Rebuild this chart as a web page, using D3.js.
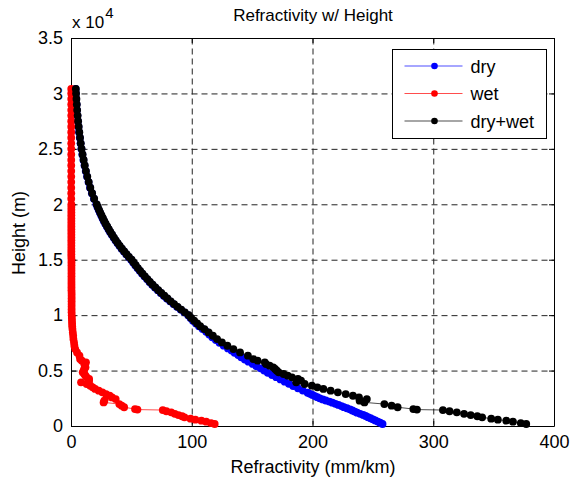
<!DOCTYPE html>
<html lang="en">
<head>
<meta charset="UTF-8">
<title>Refractivity w/ Height</title>
<script src="https://d3js.org/d3.v7.min.js"></script>
<style>
    body { margin: 0; background: #fff; }
    svg text { font-family: "Liberation Sans", Arial, sans-serif; fill: #000; }
</style>
</head>
<body>
<svg width="573" height="481"></svg>
<script>
    // ---- data (height in m, refractivity in mm/km) ----
    const xTicks = [0, 100, 200, 300, 400];
    const yTicks = [0, 5000, 10000, 15000, 20000, 25000, 30000, 35000];
    const yTickLabels = ["0", "0.5", "1", "1.5", "2", "2.5", "3", "3.5"];
    const seriesNames = ["dry", "wet", "dry+wet"];
    const seriesColors = ["#0000ff", "#ff0000", "#000000"];

    // dry: dense levels below 10 km
    const dryLowHeight = [180, 300, 400, 500, 600, 700, 800, 900, 1000, 1100,
        1200, 1300, 1400, 1500, 1600, 1700, 1800, 1900, 2000, 2100,
        2200, 2300, 2400, 2500, 2600, 2700, 2800, 2900, 3000,
        3200, 3400, 3600, 3800, 4000, 4200, 4400, 4600, 4800, 5000,
        5200, 5400, 5600, 5800, 6000, 6200, 6400, 6600, 6800, 7000,
        7250, 7500, 7750, 8000, 8250, 8500, 8750, 9000, 9250, 9500, 9750, 10000];
    const dryLow = [258, 256, 254, 252, 250, 248, 246, 244, 242, 239.5,
        237, 235, 233, 231, 228.5, 226, 224, 221.5, 219, 216.5,
        214, 211, 208.5, 206, 204, 202, 200, 198, 196,
        192, 188, 184, 180.5, 177, 173.5, 170, 166.5, 163, 160,
        157, 153.5, 150.5, 147, 144, 141, 138.5, 135.5, 133, 130,
        126.5, 123, 120, 117, 114.5, 112, 109, 106, 103.5, 101, 99, 97];

    // wet and dry+wet: sounding levels below 10 km
    const moistLowHeight = [180, 260, 390, 480, 570, 660, 780, 880, 990, 1100,
        1230, 1330, 1440, 1480, 1530, 1690, 1830, 1980, 2130, 2280,
        2430, 2580, 2730, 2880, 3040, 3190, 3340, 3490, 3640, 3790,
        3940, 4090, 4240, 4390, 4540, 4690, 4840, 4990, 5140, 5290,
        5440, 5590, 5740, 5890, 6040, 6340, 6640, 6940, 7240, 7540,
        7840, 8140, 8440, 8740, 9000, 9250, 9500, 9750, 10000];
    const wetLow = [119, 116, 112, 108, 103, 99, 94, 92, 89, 86,
        83, 79, 76, 55, 53, 44, 42, 40, 27, 27.6,
        37, 34, 32, 29, 26, 23, 20, 18, 16, 13,
        8.3, 15, 15, 13, 12, 11, 9.7, 10.5, 11, 12,
        11.5, 11, 12.4, 9, 7.5, 7, 5, 3.5, 2.8, 2.5,
        2, 1.8, 1.5, 1.2, 1.0, 0.9, 0.8, 0.7, 0.6];
    const totalLow = [377, 372.5, 366, 360.5, 353.5, 348, 340.5, 336.5, 331, 325.5,
        319.5, 313.5, 308, 286.5, 283.5, 270.5, 265.5, 259.5, 243, 239,
        245, 238.5, 233.5, 227.5, 221, 215, 209, 204, 199.5, 193.5,
        186.5, 190.5, 188, 183, 179.5, 176, 172, 170.5, 169, 167.5,
        164.5, 161.5, 160.5, 154.5, 151, 146.5, 140, 134.5, 129.5, 125,
        121, 117.5, 114, 110.5, 107, 104.5, 102, 99.5, 97.5];

    // all three series share the levels above 10 km
    const upperHeight = [10250, 10500, 10750, 11000, 11250, 11500, 11750, 12000,
        12250, 12500, 12750, 13000, 13250, 13500, 13750, 14000, 14250, 14500, 14750, 15000,
        15250, 15500, 15750, 16000, 16250, 16500, 16750, 17000, 17250, 17500,
        17750, 18000, 18250, 18500, 18750, 19000, 19250, 19500, 19750, 20000,
        20500, 21000, 21500, 22000, 22500, 23000, 23500, 24000, 24500, 25000,
        25500, 26000, 26500, 27000, 27500, 28000, 28500, 29000, 29500, 30000, 30400];
    const dryUp = [93.8, 90.8, 87.8, 84.9, 82.1, 79.4, 76.8, 74.3,
        71.9, 69.5, 67.2, 65.0, 62.9, 60.8, 58.8, 56.9, 55.0, 53.2, 51.5, 49.8,
        47.7, 45.7, 43.8, 41.9, 40.1, 38.4, 36.8, 35.3, 33.8, 32.3,
        31.0, 29.7, 28.4, 27.2, 26.1, 25.0, 23.9, 22.9, 21.9, 21.0,
        19.0, 17.3, 15.8, 14.5, 13.3, 12.2, 11.2, 10.3, 9.4, 8.6,
        7.9, 7.3, 6.7, 6.2, 5.7, 5.3, 4.9, 4.6, 4.3, 4.0, 3.8];
    const wetUp = [0.5, 0.5, 0.5, 0.5, 0.5, 0.5, 0.5, 0.5,
        0.4, 0.4, 0.4, 0.4, 0.4, 0.4, 0.4, 0.4, 0.4, 0.4, 0.4, 0.4,
        0.3, 0.3, 0.3, 0.3, 0.3, 0.3, 0.3, 0.3, 0.3, 0.3,
        0.3, 0.3, 0.3, 0.3, 0.3, 0.3, 0.3, 0.3, 0.3, 0.3,
        0.2, 0.2, 0.2, 0.2, 0.2, 0.2, 0.2, 0.2, 0.2, 0.2,
        0.2, 0.2, 0.2, 0.2, 0.2, 0.2, 0.2, 0.2, 0.2, 0.2, 0.2];
    const totalUp = [94.3, 91.3, 88.3, 85.4, 82.6, 79.9, 77.3, 74.8,
        72.3, 69.9, 67.6, 65.4, 63.3, 61.2, 59.2, 57.3, 55.4, 53.6, 51.9, 50.2,
        48.0, 46.0, 44.1, 42.2, 40.4, 38.7, 37.1, 35.6, 34.1, 32.6,
        31.3, 30.0, 28.7, 27.5, 26.4, 25.3, 24.2, 23.2, 22.2, 21.3,
        19.2, 17.5, 16.0, 14.7, 13.5, 12.4, 11.4, 10.5, 9.6, 8.8,
        8.1, 7.5, 6.9, 6.4, 5.9, 5.5, 5.1, 4.8, 4.5, 4.2, 4.0];

    function zip(hs, vs) { return hs.map((h, i) => ({ h: h, v: vs[i] })); }
    const series = [
        zip(dryLowHeight.concat(upperHeight), dryLow.concat(dryUp)),
        zip(moistLowHeight.concat(upperHeight), wetLow.concat(wetUp)),
        zip(moistLowHeight.concat(upperHeight), totalLow.concat(totalUp))
    ];

    // ---- layout ----
    const svg = d3.select("svg");
    const x = d3.scaleLinear().domain([0, 400]).range([71, 554]);
    const y = d3.scaleLinear().domain([0, 35000]).range([426, 38]);

    // grid
    const grid = svg.append("g")
        .attr("stroke", "#222").attr("stroke-width", 1).attr("stroke-dasharray", "6,4");
    xTicks.slice(1, -1).forEach(t => {
        grid.append("line").attr("x1", x(t) + 0.5).attr("x2", x(t) + 0.5)
            .attr("y1", y(35000) + 0.5).attr("y2", y(0) + 0.5);
    });
    yTicks.slice(1, -1).forEach(t => {
        grid.append("line").attr("y1", y(t) + 0.5).attr("y2", y(t) + 0.5)
            .attr("x1", x(0) + 0.5).attr("x2", x(400) + 0.5);
    });

    // axes with inward ticks on all four sides
    svg.append("g").attr("transform", `translate(0,${y(0)})`)
        .call(d3.axisBottom(x).tickValues(xTicks).tickSize(-5).tickPadding(9).tickSizeOuter(0))
        .call(g => g.selectAll("text").attr("font-size", 18).attr("font-family", null));
    svg.append("g").attr("transform", `translate(${x(0)},0)`)
        .call(d3.axisLeft(y).tickValues(yTicks).tickSize(-5).tickPadding(8).tickSizeOuter(0)
            .tickFormat((d, i) => yTickLabels[i]))
        .call(g => g.selectAll("text").attr("font-size", 18).attr("font-family", null));
    svg.append("g").attr("transform", `translate(0,${y(35000)})`)
        .call(d3.axisTop(x).tickValues(xTicks).tickSize(-5).tickSizeOuter(0).tickFormat(""));
    svg.append("g").attr("transform", `translate(${x(400)},0)`)
        .call(d3.axisRight(y).tickValues(yTicks).tickSize(-5).tickSizeOuter(0).tickFormat(""));
    svg.selectAll(".domain").attr("stroke", "#000");
    svg.selectAll(".tick line").attr("stroke", "#000");

    // series
    const line = d3.line().x(d => x(d.v)).y(d => y(d.h));
    series.forEach((data, i) => {
        svg.append("path").datum(data)
            .attr("d", line).attr("fill", "none")
            .attr("stroke", seriesColors[i]).attr("stroke-width", 0.7);
        svg.append("g").selectAll("circle").data(data).join("circle")
            .attr("cx", d => x(d.v)).attr("cy", d => y(d.h)).attr("r", 3.9)
            .attr("fill", seriesColors[i]);
    });

    // texts
    svg.append("text").attr("x", 313).attr("y", 21).attr("text-anchor", "middle")
        .attr("font-size", 17).text("Refractivity w/ Height");
    svg.append("text").attr("x", 313).attr("y", 473).attr("text-anchor", "middle")
        .attr("font-size", 18).text("Refractivity (mm/km)");
    svg.append("text").attr("transform", "translate(25,233) rotate(-90)")
        .attr("text-anchor", "middle").attr("font-size", 18).text("Height (m)");
    const mult = svg.append("text").attr("x", 72).attr("y", 28).attr("font-size", 17);
    mult.append("tspan").text("x 10");
    mult.append("tspan").attr("dx", 1).attr("dy", -10).attr("font-size", 15).text("4");

    // legend
    const lg = svg.append("g").attr("transform", "translate(392.5,49.5)");
    lg.append("rect").attr("width", 154).attr("height", 89)
        .attr("fill", "#fff").attr("stroke", "#000");
    seriesNames.forEach((name, i) => {
        const ly = 16.5 + i * 27.5;
        lg.append("line").attr("x1", 12).attr("x2", 70).attr("y1", ly).attr("y2", ly)
            .attr("stroke", seriesColors[i]).attr("stroke-width", 0.7);
        lg.append("circle").attr("cx", 42).attr("cy", ly).attr("r", 3.3).attr("fill", seriesColors[i]);
        lg.append("text").attr("x", 78).attr("y", ly + 6.5).attr("font-size", 18).text(name);
    });
</script>
</body>
</html>
